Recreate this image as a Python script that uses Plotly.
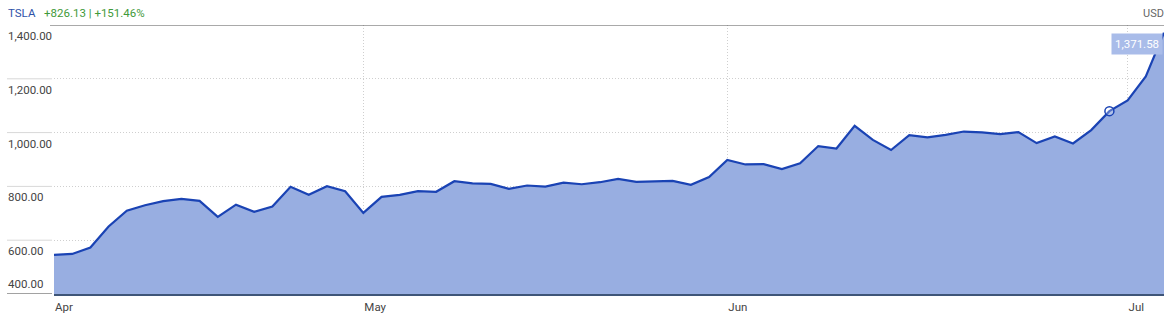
import plotly.graph_objects as go

dates = [
    "2020-04-07", "2020-04-08", "2020-04-09", "2020-04-13", "2020-04-14", "2020-04-15", "2020-04-16",
    "2020-04-17", "2020-04-20", "2020-04-21", "2020-04-22", "2020-04-23", "2020-04-24", "2020-04-27",
    "2020-04-28", "2020-04-29", "2020-04-30",
    "2020-05-01", "2020-05-04", "2020-05-05", "2020-05-06", "2020-05-07", "2020-05-08", "2020-05-11",
    "2020-05-12", "2020-05-13", "2020-05-14", "2020-05-15", "2020-05-18", "2020-05-19", "2020-05-20",
    "2020-05-21", "2020-05-22", "2020-05-26", "2020-05-27", "2020-05-28", "2020-05-29",
    "2020-06-01", "2020-06-02", "2020-06-03", "2020-06-04", "2020-06-05", "2020-06-08", "2020-06-09",
    "2020-06-10", "2020-06-11", "2020-06-12", "2020-06-15", "2020-06-16", "2020-06-17", "2020-06-18",
    "2020-06-19", "2020-06-22", "2020-06-23", "2020-06-24", "2020-06-25", "2020-06-26", "2020-06-29",
    "2020-06-30",
    "2020-07-01", "2020-07-02", "2020-07-06",
]
close = [
    545.45, 548.84, 573.00, 650.95, 709.89, 729.83, 745.21, 753.89, 746.36, 686.72, 732.11, 705.63,
    725.15, 798.75, 769.12, 800.51, 781.88,
    701.32, 761.19, 768.21, 782.58, 780.04, 819.42, 811.29, 809.41, 790.96, 803.33, 799.17, 813.63,
    808.01, 815.56, 827.60, 816.88, 818.87, 820.23, 805.81, 835.00,
    898.10, 881.56, 882.96, 864.38, 885.66, 949.92, 940.67, 1025.05, 972.84, 935.28, 990.90, 982.13,
    991.79, 1003.96, 1000.90, 994.32, 1001.78, 960.85, 985.98, 959.74, 1009.35, 1079.81,
    1119.63, 1208.66, 1371.58,
]
month_ticks = ["2020-04-07", "2020-05-01", "2020-06-01", "2020-07-01"]
month_labels = ["Apr", "May", "Jun", "Jul"]
y_ticks = [400, 600, 800, 1000, 1200, 1400]
y_labels = ["400.00", "600.00", "800.00", "1,000.00", "1,200.00", "1,400.00"]
marker_date = "2020-06-30"
marker_value = 1079.81
symbol = "TSLA"
change_text = "+826.13 | +151.46%"
currency = "USD"
last_label = "1,371.58"

W, H = 1172, 317
ML, MR, MT, MB = 54, 8, 25, 23
PW = W - ML - MR
PH = H - MT - MB

def px_x(p):
    return (p - ML) / PW

def px_y(p):
    return 1 - (p - MT) / PH

FONT = "Roboto, Arial, sans-serif"
FS = 11.5
LINE = "#1a43b4"
FILL = "#98aee1"
GRID = "#cfcfcf"
DOT = "1px,2px"

fig = go.Figure()
fig.add_trace(go.Scatter(
    x=dates, y=close, mode="lines", fill="tozeroy", fillcolor=FILL,
    line=dict(color=LINE, width=2.2), hoverinfo="skip", showlegend=False,
))
fig.add_trace(go.Scatter(
    x=[marker_date], y=[marker_value], mode="markers",
    marker=dict(symbol="circle", size=9, color="rgba(255,255,255,0.25)",
                line=dict(color=LINE, width=1.5)),
    hoverinfo="skip", showlegend=False,
))

shapes = []
annotations = []
for v, lab in zip(y_ticks, y_labels):
    if v == 400:
        shapes.append(dict(type="line", xref="paper", yref="y", x0=px_x(7), x1=px_x(52),
                           y0=v, y1=v, line=dict(color="#444", width=1)))
        annotations.append(dict(xref="paper", yref="y", x=px_x(6), y=v, xanchor="left",
                                yanchor="bottom", text=lab, showarrow=False, yshift=1,
                                font=dict(family=FONT, size=FS, color="#444")))
    elif v == 1400:
        shapes.append(dict(type="line", xref="paper", yref="y", x0=px_x(50), x1=1,
                           y0=v, y1=v, line=dict(color="#555", width=1)))
        annotations.append(dict(xref="paper", yref="y", x=px_x(6), y=v, xanchor="left",
                                yanchor="top", text=lab, showarrow=False, yshift=-2,
                                font=dict(family=FONT, size=FS, color="#444")))
    else:
        shapes.append(dict(type="line", xref="paper", yref="y", x0=px_x(7), x1=px_x(52),
                           y0=v, y1=v, line=dict(color="#d8d8d8", width=1)))
        annotations.append(dict(xref="paper", yref="y", x=px_x(6), y=v, xanchor="left",
                                yanchor="top", text=lab, showarrow=False, yshift=-2,
                                font=dict(family=FONT, size=FS, color="#444")))

annotations += [
    dict(xref="paper", yref="paper", x=px_x(6), y=px_y(13), xanchor="left", yanchor="middle",
         text=symbol, showarrow=False, font=dict(family=FONT, size=FS, color="#2f52a8")),
    dict(xref="paper", yref="paper", x=px_x(42), y=px_y(13), xanchor="left", yanchor="middle",
         text=change_text, showarrow=False, font=dict(family=FONT, size=FS, color="#3f9a3a")),
    dict(xref="paper", yref="paper", x=px_x(1166), y=px_y(13), xanchor="right", yanchor="middle",
         text=currency, showarrow=False, font=dict(family=FONT, size=11, color="#666")),
    dict(xref="x", yref="y", x=dates[-1], y=close[-1], xanchor="right", yanchor="top",
         text=last_label, showarrow=False, bgcolor="#a9bce9", borderpad=3, xshift=-1,
         font=dict(family=FONT, size=11.5, color="white")),
]

fig.update_layout(
    width=W, height=H, margin=dict(l=ML, r=MR, t=MT, b=MB, autoexpand=False),
    paper_bgcolor="white", plot_bgcolor="white",
    shapes=shapes, annotations=annotations,
    xaxis=dict(type="category", range=[0, len(dates) - 1], tickvals=month_ticks,
               ticktext=month_labels, ticklabelposition="outside right", ticks="",
               showgrid=True, gridcolor=GRID, griddash=DOT, gridwidth=1,
               showline=True, linecolor="#3e5578", linewidth=2, zeroline=False,
               automargin=False,
               tickfont=dict(family=FONT, size=FS, color="#444"), ticklabelstandoff=1),
    yaxis=dict(range=[400, 1400], tickvals=y_ticks[1:-1], showticklabels=False,
               showgrid=True, gridcolor=GRID, griddash=DOT, gridwidth=1,
               zeroline=False, showline=False, ticks="", automargin=False),
)
fig.write_html("out.html")
